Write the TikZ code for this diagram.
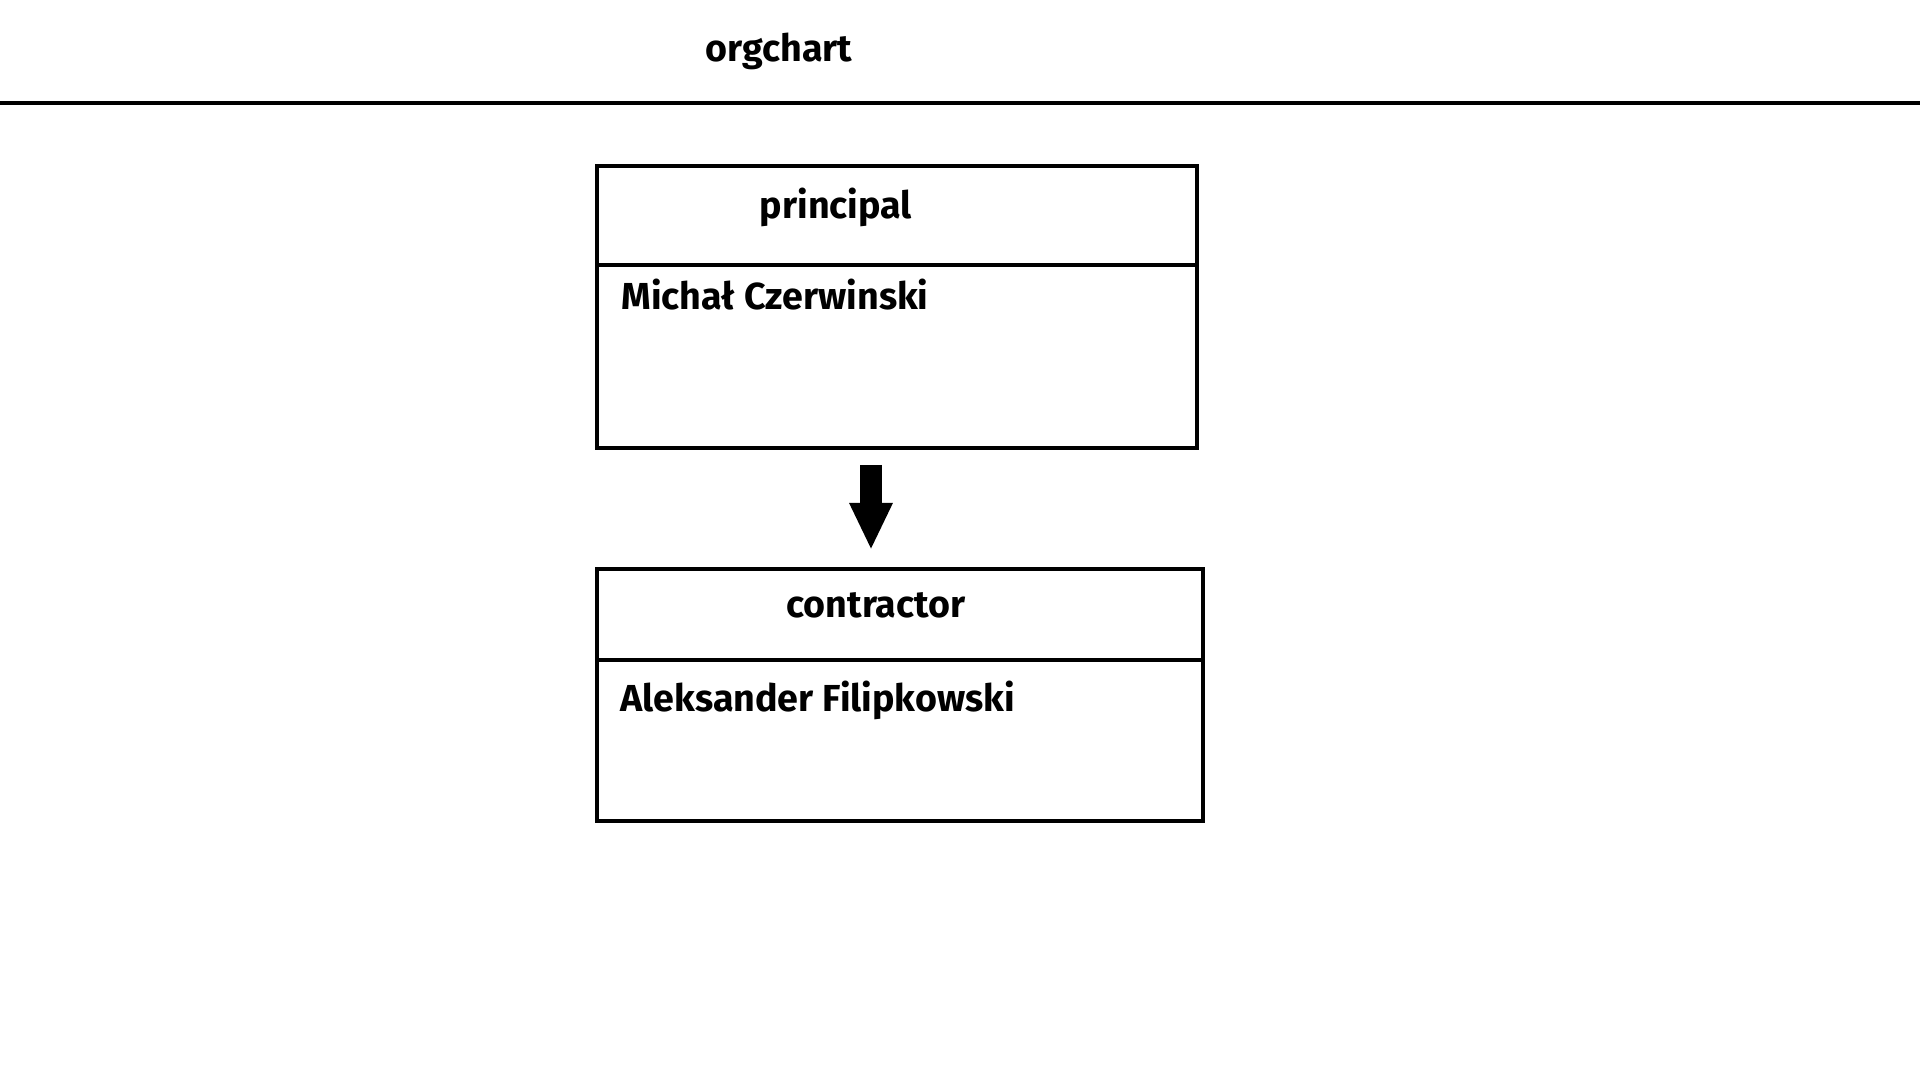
\documentclass[tikz,border=0pt]{standalone}
\usepackage{fontspec}
\setmainfont{Fira Sans}
\usetikzlibrary{arrows.meta, positioning}

\tikzset{
    heading/.style = {draw, line width = 0.04cm, minimum width = #1, inner sep = 0pt, anchor = north west},
    panel/.style = {draw, line width = 0.04cm, minimum width = #1, inner sep = 0pt, anchor = north west},
    label/.style = {font = \bfseries\fontsize{10.7}{13}\selectfont, inner sep = 0pt}
}

\begin{document}
\begin{tikzpicture}[x = 0.01cm, y = -0.01cm]
    \useasboundingbox (0, 0) rectangle (1920, 1080);

    % title and rule
    \node[label] (title) at (779, 51) {orgchart};
    \coordinate (ruleleft) at (0, 103);
    \coordinate (ruleright) at (1920, 103);
    \draw[line width = 0.04cm] (ruleleft) -- (ruleright);

    % principal
    \node[heading = 6cm, minimum height = 0.99cm] (principalhead) at (595, 164) {};
    \node[panel = 6cm, minimum height = 1.83cm] (principalbody) at (595, 263) {};
    \node[label] (principalname) at (836, 207) {principal};
    \node[label, anchor = west] (principalperson) at (621, 295) {Michał Czerwinski};

    % contractor
    \node[heading = 6.06cm, minimum height = 0.91cm] (contractorhead) at (595, 567) {};
    \node[panel = 6.06cm, minimum height = 1.61cm] (contractorbody) at (595, 658) {};
    \node[label] (contractorname) at (876, 605) {contractor};
    \node[label, anchor = west] (contractorperson) at (620, 700) {Aleksander Filipkowski};

    % link
    \coordinate (arrowtop) at (871, 465);
    \coordinate (arrowtip) at (871, 550);
    \draw[line width = 0.22cm, -{Triangle[width = 0.4cm, length = 0.47cm]}] (arrowtop) -- (arrowtip);
\end{tikzpicture}
\end{document}
